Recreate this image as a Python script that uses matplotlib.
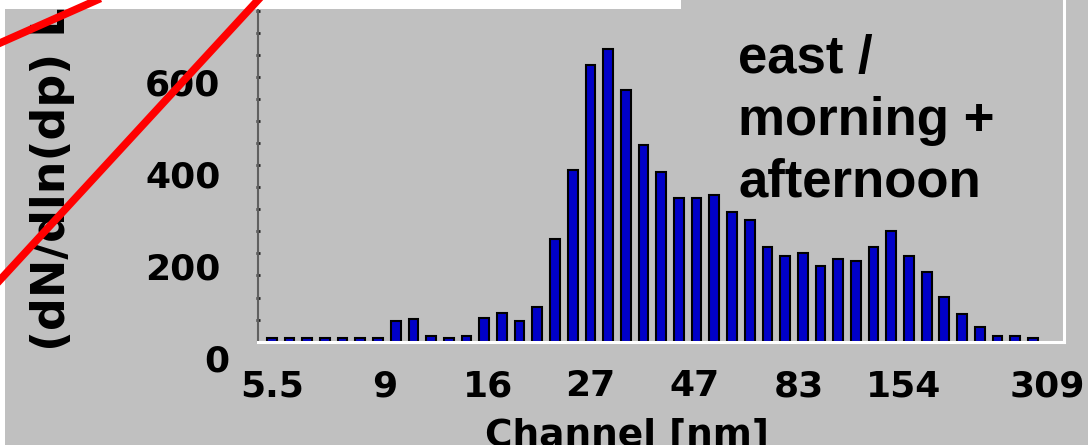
import matplotlib
matplotlib.use("Agg")
import matplotlib.pyplot as plt
import matplotlib.transforms as mtransforms
from matplotlib.lines import Line2D
from matplotlib.patches import Rectangle
from matplotlib.ticker import MultipleLocator

# bar heights, one per channel
values = [7, 7, 7, 7, 7, 7, 7, 46, 50, 12, 9, 13, 51, 62, 44, 76,
          223, 374, 602, 636, 548, 428, 368, 312, 312, 320, 283, 265,
          206, 187, 193, 164, 180, 176, 205, 241, 187, 151, 97, 61, 32,
          12, 12, 8]
xtick_pos = [0, 6.4, 12.2, 18.0, 23.9, 29.8, 35.7, 43.8]
xtick_labels = ["5.5", "9", "16", "27", "47", "83", "154", "309"]
ytick_vals = [0, 200, 400, 600]
title_lines = ["east /", "morning +", "afternoon"]

W, H = 1088, 445
gray = "#c0c0c0"

def fx(px):
    return px / W

def fy(py):
    return 1 - py / H

fig = plt.figure(figsize=(W / 100, H / 100), dpi=100, facecolor=gray)
ax = fig.add_axes([fx(258), fy(341.7), (1064 - 258) / W, 341.7 / H])
ax.set_facecolor(gray)

ax.bar(range(len(values)), values, width=0.55, color="#0000c8",
       edgecolor="black", linewidth=1.5)
ax.set_xlim(-0.78, 44.76)
ax.set_ylim(0, 743)

ax.spines["top"].set_visible(False)
ax.spines["left"].set_color("#606060")
ax.spines["left"].set_linewidth(1.5)
for s in ["bottom", "right"]:
    ax.spines[s].set_color("white")
    ax.spines[s].set_linewidth(2.2)

ax.set_xticks(xtick_pos)
ax.set_xticklabels(xtick_labels, fontsize=26, fontweight="bold")
ax.tick_params(axis="x", length=0, pad=20)

ax.set_yticks(ytick_vals)
ax.set_yticklabels([str(v) for v in ytick_vals], fontsize=26, fontweight="bold")
ax.tick_params(axis="y", length=0, pad=27)
ax.yaxis.set_minor_locator(MultipleLocator(48))
ax.tick_params(axis="y", which="minor", length=3, width=2, color="#202020",
               direction="inout")

# labels sit a bit lower than the tick positions in the original
for lab in ax.get_yticklabels():
    dx = 9 / 100 if lab.get_text() == "0" else 0
    off = mtransforms.ScaledTranslation(dx, -16 / 100, fig.dpi_scale_trans)
    lab.set_transform(lab.get_transform() + off)

fig.text(fx(627), fy(418), "Channel [nm]", fontsize=27, fontweight="bold",
         ha="center", va="top")
fig.text(fx(53), fy(351), "(dN/dln(dp) L\u207b\u00b9)", fontsize=33,
         fontweight="bold", rotation=90, ha="center", va="bottom")

for i, line in enumerate(title_lines):
    fig.text(fx(738), fy(73 + 62 * i), line, fontsize=38, fontweight="bold",
             family="Liberation Sans", ha="left", va="baseline")

# white border pieces
fig.add_artist(Rectangle((0, fy(9)), fx(681), 9 / H, transform=fig.transFigure,
                         facecolor="white", edgecolor="none", zorder=4))
fig.add_artist(Rectangle((0, 0), fx(5), 1, transform=fig.transFigure,
                         facecolor="white", edgecolor="none", zorder=4))

# red strike lines
fig.add_artist(Line2D([fx(0), fx(97)], [fy(43), fy(0)], transform=fig.transFigure,
                      color="red", linewidth=5.5, zorder=5))
fig.add_artist(Line2D([fx(0), fx(258)], [fy(280), fy(0)], transform=fig.transFigure,
                      color="red", linewidth=5.5, zorder=5))

fig.savefig("out.png", dpi=100, facecolor=gray)
